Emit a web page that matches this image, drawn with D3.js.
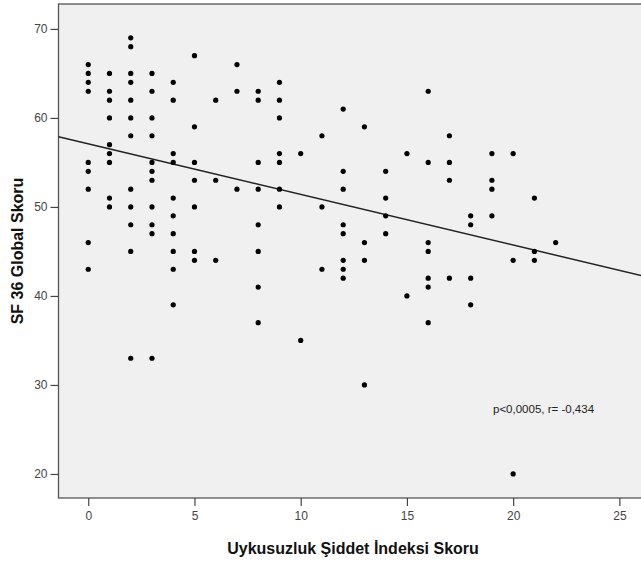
<!DOCTYPE html>
<html>
<head>
<meta charset="utf-8">
<style>
body{ margin:0; background:#ffffff; }
svg{ display:block; font-family:"Liberation Sans", Arial, sans-serif; }
.tick text{ fill:#444; font-size:12px; }
.axis-title{ font-weight:bold; font-size:16px; fill:#111; }
.dot{ fill:#000; }
</style>
</head>
<body>
<svg id="chart"></svg>
<script src="https://d3js.org/d3.v7.min.js"></script>
<script>
// insomnia severity index score (x) and SF-36 global score (y), one point per patient
var xs = [0,0,0,0,0,0,0,0,0,
          1,1,1,1,1,1,1,1,1,
          2,2,2,2,2,2,2,2,2,2,2,2,
          3,3,3,3,3,3,3,3,3,3,3,
          4,4,4,4,4,4,4,4,4,4,
          5,5,5,5,5,5,5,
          6,6,6,
          7,7,7,
          8,8,8,8,8,8,8,8,
          9,9,9,9,9,9,9,
          10,10,
          11,11,11,
          12,12,12,12,12,12,12,12,
          13,13,13,13,
          14,14,14,14,
          15,15,
          16,16,16,16,16,16,16,
          17,17,17,17,
          18,18,18,18,
          19,19,19,19,
          20,20,20,
          21,21,21,
          22];
var ys = [66,65,64,63,55,54,52,46,43,
          65,63,62,60,57,56,55,51,50,
          69,68,65,64,62,60,58,52,50,48,45,33,
          65,63,60,58,55,54,53,50,48,47,33,
          64,62,56,55,51,49,47,45,43,39,
          67,59,55,53,50,45,44,
          62,53,44,
          66,63,52,
          63,62,55,52,48,45,41,37,
          64,62,60,56,55,52,50,
          56,35,
          58,50,43,
          61,54,52,48,47,44,43,42,
          59,46,44,30,
          54,51,49,47,
          56,40,
          63,55,46,45,42,41,37,
          58,55,53,42,
          49,48,42,39,
          56,53,52,49,
          56,44,20,
          51,45,44,
          46];
var xTicks = [0,5,10,15,20,25];
var yTicks = [20,30,40,50,60,70];
var fitIntercept = 57.1, fitSlope = -0.569;
var note = "p<0,0005, r= -0,434";

var W = 641, H = 564;
var plot = { left: 58.5, top: 4, bottom: 498, right: 647 };

var svg = d3.select("#chart").attr("width", W).attr("height", H);

var x = d3.scaleLinear().domain([-1.4, 26.3]).range([plot.left, plot.right]);
var y = d3.scaleLinear().domain([17.3, 72.8]).range([plot.bottom, plot.top]);

// plot area
svg.append("rect")
    .attr("x", plot.left).attr("y", plot.top)
    .attr("width", plot.right - plot.left).attr("height", plot.bottom - plot.top)
    .attr("fill", "#f0f0f0")
    .attr("stroke", "#555").attr("stroke-width", 1.3);

svg.append("g")
    .attr("transform", "translate(0," + plot.bottom + ")")
    .call(d3.axisBottom(x).tickValues(xTicks).tickSize(8).tickPadding(5));
svg.append("g")
    .attr("transform", "translate(" + plot.left + ",0)")
    .call(d3.axisLeft(y).tickValues(yTicks).tickSize(8).tickPadding(3));
svg.selectAll(".domain").remove();
svg.selectAll(".tick line").attr("stroke", "#444").attr("stroke-width", 1.2);
svg.selectAll(".tick text").attr("font-family", "Liberation Sans, Arial, sans-serif");

// regression line
var xd = x.domain();
svg.append("line")
    .attr("x1", x(xd[0])).attr("y1", y(fitIntercept + fitSlope * xd[0]))
    .attr("x2", x(xd[1])).attr("y2", y(fitIntercept + fitSlope * xd[1]))
    .attr("stroke", "#222").attr("stroke-width", 1.5);

svg.selectAll("circle.dot")
    .data(xs.map(function(v, i){ return {x: v, y: ys[i]}; }))
    .enter()
    .append("circle")
    .attr("class", "dot")
    .attr("cx", function(d){ return x(d.x); })
    .attr("cy", function(d){ return y(d.y); })
    .attr("r", 2.6);

svg.append("text")
    .attr("x", 493).attr("y", 413)
    .attr("font-size", 11.5).attr("fill", "#222")
    .text(note);

svg.append("text")
    .attr("class", "axis-title")
    .attr("text-anchor", "middle")
    .attr("x", 353).attr("y", 554)
    .text("Uykusuzluk Şiddet İndeksi Skoru");

svg.append("text")
    .attr("class", "axis-title")
    .attr("text-anchor", "middle")
    .attr("transform", "translate(23,251) rotate(-90)")
    .text("SF 36 Global Skoru");
</script>
</body>
</html>
